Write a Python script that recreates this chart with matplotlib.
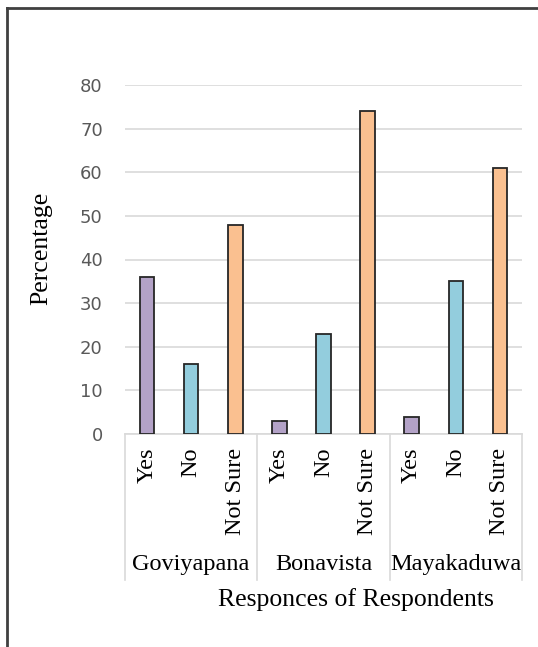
import numpy as np
from matplotlib import pyplot as plt
from matplotlib.lines import Line2D

sites = ['Goviyapana', 'Bonavista', 'Mayakaduwa']
responses = ['Yes', 'No', 'Not Sure']
yes = [36, 3, 4]
no = [16, 23, 35]
not_sure = [48, 74, 61]

colors = ['#b3a2c7', '#93cddd', '#fac090']
serif = 'Liberation Serif'

fig = plt.figure(figsize=(5.38, 6.47), dpi=100)
ax = fig.add_axes([125 / 538, 213 / 647, 397 / 538, 349 / 647])

# one bar per site/response, sites side by side
vals = np.array([yes, no, not_sure]).T
n = len(responses)
for i, site in enumerate(sites):
    for j in range(n):
        ax.bar(i * n + j, vals[i, j], width=0.33, color=colors[j],
               edgecolor='#262626', linewidth=1.3, zorder=3)

ax.set_xlim(-0.5, len(sites) * n - 0.5)
ax.set_ylim(0, 80)
ax.set_yticks(np.arange(0, 81, 10))
ax.yaxis.grid(True, color='#d9d9d9', linewidth=1.2, zorder=0)
ax.tick_params(axis='y', length=0, pad=16, labelsize=13, labelcolor='#595959')
for s in ['top', 'right', 'left']:
    ax.spines[s].set_visible(False)
ax.spines['bottom'].set_color('#d9d9d9')
ax.spines['bottom'].set_linewidth(1.2)

ax.set_xticks(np.arange(len(sites) * n))
ax.set_xticklabels(responses * len(sites), rotation=90, va='top',
                   fontfamily=serif, fontsize=17.5)
ax.tick_params(axis='x', length=0, pad=10)

# category table below the axis
tr = ax.get_xaxis_transform()
for k in range(len(sites) + 1):
    x = k * n - 0.5
    ax.add_line(Line2D([x, x], [0, -0.418], transform=tr, color='#d9d9d9',
                       linewidth=1.2, clip_on=False))
for i, site in enumerate(sites):
    ax.text(i * n + 1, -0.375, site, transform=tr, ha='center', va='center',
            fontfamily=serif, fontsize=17.5)

fig.text(356 / 538, 1 - 600 / 647, 'Responces of Respondents', ha='center',
         va='center', fontfamily=serif, fontsize=18.5)
fig.text(41 / 538, 1 - 248 / 647, 'Percentage', rotation=90, ha='center',
         va='center', fontfamily=serif, fontsize=18.5)

# outer frame
fig.add_artist(Line2D([7 / 538, 7 / 538], [0, 1 - 8 / 647], color='#404040',
                      linewidth=2, transform=fig.transFigure))
fig.add_artist(Line2D([7 / 538, 1], [1 - 8 / 647, 1 - 8 / 647], color='#404040',
                      linewidth=2, transform=fig.transFigure))

fig.savefig('out.png', dpi=100)
